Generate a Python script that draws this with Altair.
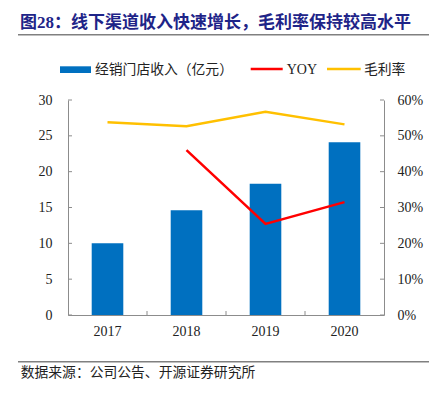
import altair as alt
import pandas as pd

# ---------------- data ----------------
years = ["2017", "2018", "2019", "2020"]
revenue = [10.0, 14.6, 18.3, 24.1]          # 经销门店收入（亿元）
yoy = [None, 0.460, 0.254, 0.315]           # YOY
gross_margin = [0.538, 0.527, 0.567, 0.532] # 毛利率
left_ticks = [0, 5, 10, 15, 20, 25, 30]
right_ticks = [0, 0.1, 0.2, 0.3, 0.4, 0.5, 0.6]
boundary_years = ["2018", "2019", "2020"]

title_text = "图28：线下渠道收入快速增长，毛利率保持较高水平"
source_text = "数据来源：公司公告、开源证券研究所"
legend_labels = ["经销门店收入（亿元）", "YOY", "毛利率"]

df = pd.DataFrame({"year": years, "revenue": revenue, "yoy": yoy, "gm": gross_margin})

SERIF = "Liberation Serif, Noto Sans CJK SC"
CJK = "Noto Sans CJK SC"
AXIS_COLOR = "#8c8c8c"
LABEL_COLOR = "#222222"
BLUE = "#0070C0"
RED = "#FF0000"
YELLOW = "#FFC000"

W, H = 316, 215

xscale = alt.Scale(domain=years, paddingInner=0, paddingOuter=0)
x_axis = alt.Axis(labelAngle=0, ticks=False, grid=False, domainColor=AXIS_COLOR,
                  labelFont=SERIF, labelFontSize=14, labelColor=LABEL_COLOR,
                  labelPadding=9, title=None)
x_main = alt.X("year:N", scale=xscale, axis=x_axis, title=None)

lscale = alt.Scale(domain=[0, 30])
rscale = alt.Scale(domain=[0, 0.6])
l_axis = alt.Axis(values=left_ticks, ticks=False, grid=False, domainColor=AXIS_COLOR,
                  labelFont=SERIF, labelFontSize=14, labelColor=LABEL_COLOR,
                  labelPadding=16, title=None)
r_axis = alt.Axis(orient="right", format=".0%", values=right_ticks, ticks=False,
                  grid=False, domainColor=AXIS_COLOR, labelFont=SERIF,
                  labelFontSize=14, labelColor=LABEL_COLOR, labelPadding=13, title=None)

bars = alt.Chart(df).mark_bar(color=BLUE, width=alt.RelativeBandSize(0.4)).encode(
    x=x_main,
    y=alt.Y("revenue:Q", scale=lscale, axis=l_axis, title=None),
)

lticks = alt.Chart(pd.DataFrame({"revenue": left_ticks})).mark_rule(color=AXIS_COLOR).encode(
    y=alt.Y("revenue:Q", scale=lscale, axis=l_axis, title=None),
    x=alt.value(0), x2=alt.value(4),
)

xticks = alt.Chart(pd.DataFrame({"year": boundary_years})).mark_rule(color=AXIS_COLOR).encode(
    x=alt.X("year:N", scale=xscale, axis=x_axis, title=None, bandPosition=0),
    y=alt.value(H - 4), y2=alt.value(H),
)

left = alt.layer(bars, lticks, xticks)

yoy_line = alt.Chart(df).mark_line(color=RED, strokeWidth=2.5).encode(
    x=x_main,
    y=alt.Y("yoy:Q", scale=rscale, axis=r_axis, title=None),
)

gm_line = alt.Chart(df).mark_line(color=YELLOW, strokeWidth=2.5).encode(
    x=x_main,
    y=alt.Y("gm:Q", scale=rscale, axis=r_axis, title=None),
)

rticks = alt.Chart(pd.DataFrame({"yoy": right_ticks})).mark_rule(color=AXIS_COLOR).encode(
    y=alt.Y("yoy:Q", scale=rscale, axis=r_axis, title=None),
    x=alt.value(W - 4), x2=alt.value(W),
)

right = alt.layer(yoy_line, gm_line, rticks)

# ---------------- decorations (title, legend, source) ----------------
one = pd.DataFrame({"k": [0]})

title = alt.Chart(pd.DataFrame({"t": [title_text]})).mark_text(
    align="left", baseline="middle", font=SERIF, fontSize=17, fontWeight="bold",
    color="#1E2488").encode(text="t:N", x=alt.value(-48), y=alt.value(-77.5))

title_rule = alt.Chart(one).mark_rule(color="#808080", strokeWidth=1.5).encode(
    x=alt.value(-50), x2=alt.value(362), y=alt.value(-65.3))

leg_rect = alt.Chart(one).mark_rect(color=BLUE).encode(
    x=alt.value(-8), x2=alt.value(23), y=alt.value(-33.7), y2=alt.value(-27))
leg_t1 = alt.Chart(pd.DataFrame({"t": [legend_labels[0]]})).mark_text(
    align="left", baseline="middle", font=CJK, fontSize=13.8, color=LABEL_COLOR).encode(
    text="t:N", x=alt.value(27), y=alt.value(-30.5))
leg_red = alt.Chart(one).mark_rule(color=RED, strokeWidth=2.5).encode(
    x=alt.value(182.7), x2=alt.value(214.7), y=alt.value(-31))
leg_t2 = alt.Chart(pd.DataFrame({"t": [legend_labels[1]]})).mark_text(
    align="left", baseline="middle", font=SERIF, fontSize=14, color=LABEL_COLOR).encode(
    text="t:N", x=alt.value(218.7), y=alt.value(-30.5))
leg_yel = alt.Chart(one).mark_rule(color=YELLOW, strokeWidth=2.5).encode(
    x=alt.value(259), x2=alt.value(292.7), y=alt.value(-31))
leg_t3 = alt.Chart(pd.DataFrame({"t": [legend_labels[2]]})).mark_text(
    align="left", baseline="middle", font=CJK, fontSize=13.8, color=LABEL_COLOR).encode(
    text="t:N", x=alt.value(296), y=alt.value(-30.5))

foot_rule = alt.Chart(one).mark_rule(color="#808080", strokeWidth=1.5).encode(
    x=alt.value(-50), x2=alt.value(362), y=alt.value(261.7))
foot_text = alt.Chart(pd.DataFrame({"t": [source_text]})).mark_text(
    align="left", baseline="middle", font=CJK, fontSize=13.8, color=LABEL_COLOR).encode(
    text="t:N", x=alt.value(-47.3), y=alt.value(272.5))

chart = alt.layer(
    left, right,
    title, title_rule, leg_rect, leg_t1, leg_red, leg_t2, leg_yel, leg_t3,
    foot_rule, foot_text,
).resolve_scale(y="independent").properties(
    width=W, height=H,
    autosize=alt.AutoSizeParams(type="none"),
    padding={"left": 60, "top": 92, "right": 45, "bottom": 70},
    background="white",
).configure_view(stroke=None)

chart.save("out.html", embed_options={"renderer": "svg", "actions": False})
